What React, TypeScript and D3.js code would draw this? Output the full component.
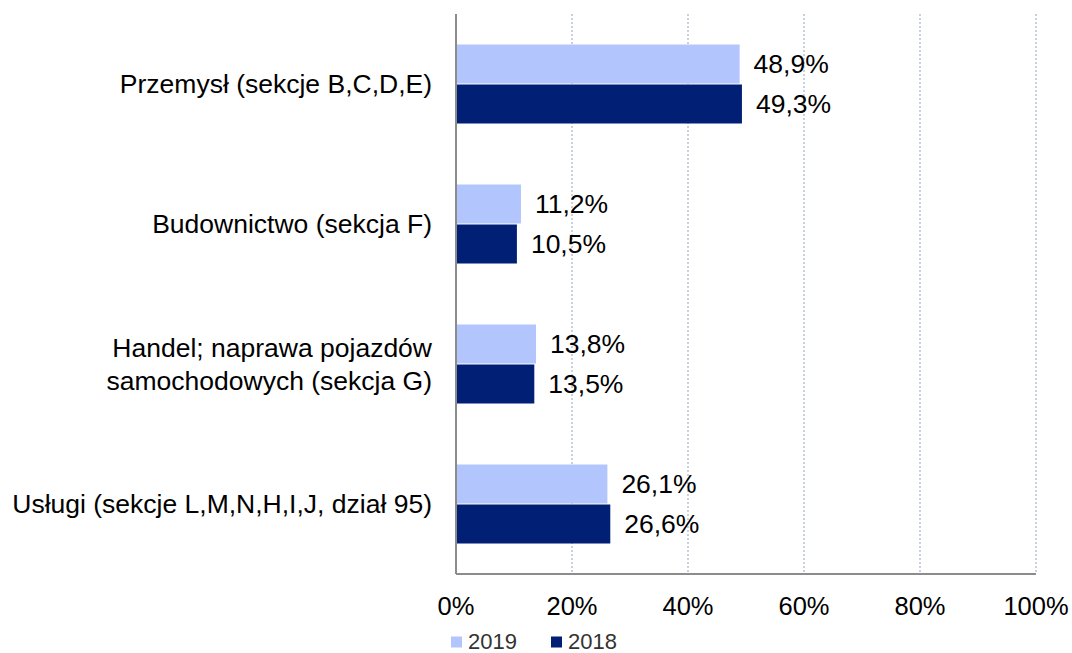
import React from "react";
import * as d3 from "d3";

const categories: string[][] = [
  ["Przemysł (sekcje B,C,D,E)"],
  ["Budownictwo (sekcja F)"],
  ["Handel; naprawa pojazdów", "samochodowych (sekcja G)"],
  ["Usługi (sekcje L,M,N,H,I,J, dział 95)"],
];
const values2019 = [48.9, 11.2, 13.8, 26.1];
const values2018 = [49.3, 10.5, 13.5, 26.6];
const seriesNames = ["2019", "2018"];
const ticks = [0, 20, 40, 60, 80, 100];

const colors = ["#b3c5fd", "#001f75"];
const font = "Liberation Sans, Arial, sans-serif";

export default function App() {
  const W = 1072, H = 653;
  const left = 456, right = 1036, top = 14, bottom = 574;
  const x = d3.scaleLinear().domain([0, 100]).range([left, right]);
  const y = d3
    .scaleBand<number>()
    .domain(categories.map((_, i) => i))
    .range([top, bottom])
    .paddingInner(3 / 7)
    .paddingOuter(3 / 14);
  const sub = d3.scaleBand<number>().domain([0, 1]).range([0, y.bandwidth()]);
  const series = [values2019, values2018];
  const fmt = (v: number) => v.toFixed(1).replace(".", ",") + "%";

  return (
    <svg width={W} height={H} style={{ position: "absolute", left: 0, top: 0 }} fontFamily={font}>
      <rect width={W} height={H} fill="#fff" />
      {ticks.slice(1).map((t) => (
        <line key={t} x1={x(t)} x2={x(t)} y1={top} y2={bottom} stroke="#b8c2d6" strokeWidth={1.5} strokeDasharray="2,2" />
      ))}
      {categories.map((c, i) =>
        series.map((s, k) => {
          const y0 = (y(i) as number) + (sub(k) as number);
          const h = sub.bandwidth();
          return (
            <g key={`${i}-${k}`}>
              <rect x={x(0)} y={y0 + 0.5} width={x(s[i]) - x(0)} height={h - 1} fill={colors[k]} />
              <text x={x(s[i]) + 14} y={y0 + h / 2} dy="0.35em" fontSize={26.5} fill="#000">
                {fmt(s[i])}
              </text>
            </g>
          );
        })
      )}
      {categories.map((lines, i) => {
        const cy = (y(i) as number) + y.bandwidth() / 2;
        const lh = 33;
        return (
          <text key={i} x={432} textAnchor="end" fontSize={26.5} fill="#000">
            {lines.map((l, j) => (
              <tspan key={j} x={432} y={cy + (j - (lines.length - 1) / 2) * lh} dy="0.35em">
                {l}
              </tspan>
            ))}
          </text>
        );
      })}
      <line x1={left} x2={left} y1={top} y2={bottom} stroke="#8c8c8c" strokeWidth={2} />
      <line x1={left} x2={right} y1={bottom} y2={bottom} stroke="#8c8c8c" strokeWidth={2} />
      {ticks.map((t) => (
        <text key={t} x={x(t)} y={606} dy="0.35em" textAnchor="middle" fontSize={25.5} fill="#000">
          {t}%
        </text>
      ))}
      {seriesNames.map((n, k) => (
        <g key={n} transform={`translate(${451 + k * 100},641)`}>
          <rect x={0} y={-4.5} width={11} height={11} fill={colors[k]} />
          <text x={17} y={0} dy="0.35em" fontSize={22} fill="#333">
            {n}
          </text>
        </g>
      ))}
    </svg>
  );
}
